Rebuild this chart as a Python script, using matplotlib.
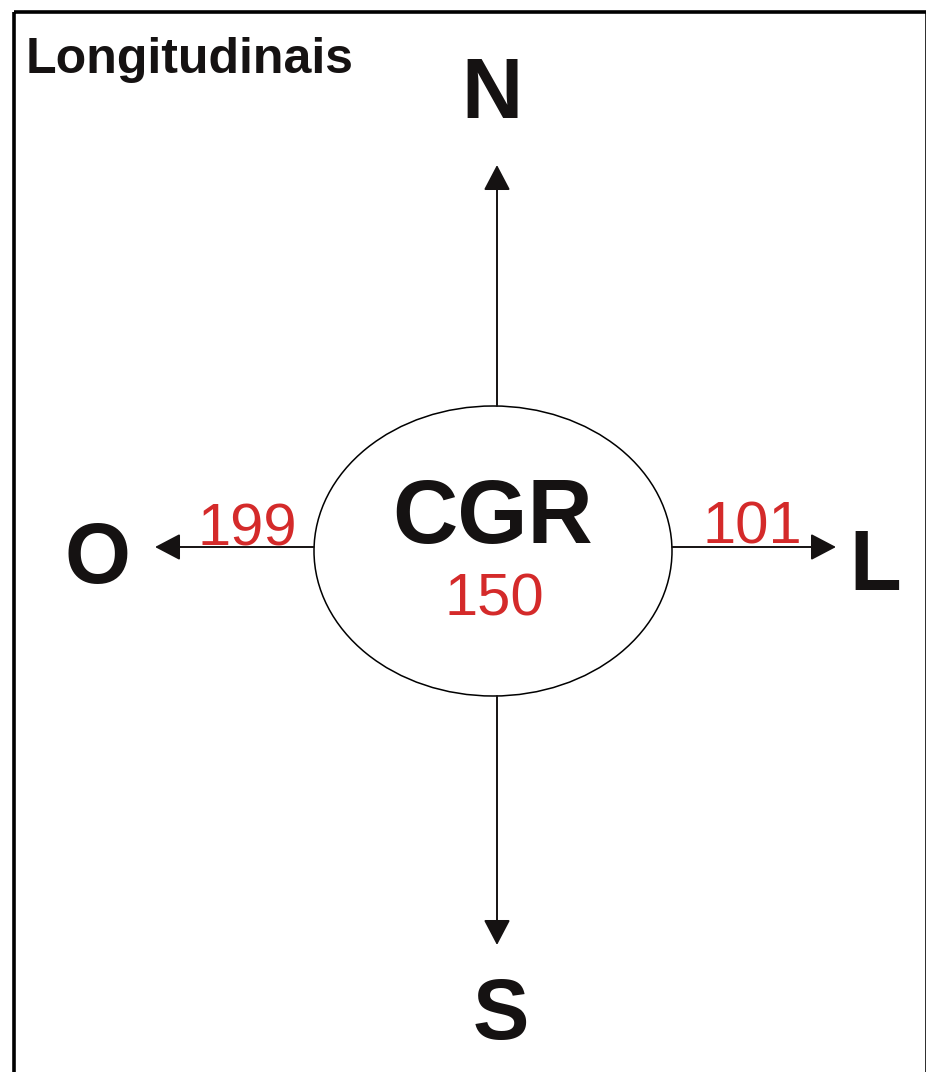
import matplotlib.pyplot as plt
from matplotlib.patches import Ellipse, Rectangle

# dados do diagrama
titulo = 'Longitudinais'
centro = 'CGR'
total_centro = 150
direcoes = ['N', 'S', 'O', 'L']
contagens = {'O': 199, 'L': 101}

vermelho = '#d42a2a'
preto = '#151212'
fonte = 'Liberation Sans'

fig = plt.figure(figsize=(9.26, 10.72), dpi=100)
ax = fig.add_axes([0, 0, 1, 1])
ax.set_xlim(0, 926)
ax.set_ylim(1072, 0)
ax.axis('off')

# moldura (lado direito quase fora da imagem)
ax.add_patch(Rectangle((14, 12), 913, 1080, fill=False, lw=2.6, ec='black'))

ax.text(26, 73, titulo, fontsize=36, fontweight='bold', family=fonte,
        ha='left', va='baseline', color=preto)

# elipse central
cx, cy = 493, 551
ax.add_patch(Ellipse((cx, cy), 358, 290, fill=False, lw=1.1, ec='black'))
ax.text(cx, 543, centro, fontsize=65, fontweight='bold', family=fonte,
        ha='center', va='baseline', color=preto)
ax.text(494, 615, str(total_centro), fontsize=43, family=fonte,
        ha='center', va='baseline', color=vermelho)

# setas: (inicio, fim, posicao da letra)
setas = {
    'N': ((497, 406), (497, 165), (492, 118)),
    'S': ((497, 696), (497, 945), (501, 1039)),
    'O': ((314, 547), (155, 547), (97, 583)),
    'L': ((672, 547), (836, 547), (875, 590)),
}
pos_num = {'O': (247, 545), 'L': (752, 543)}

for d in direcoes:
    ini, fim, pos = setas[d]
    ax.annotate('', xy=fim, xytext=ini,
                arrowprops=dict(arrowstyle='-|>,head_length=1.58,head_width=0.83',
                                mutation_scale=10, lw=1.4, color=preto,
                                shrinkA=0, shrinkB=0))
    ax.text(pos[0], pos[1], d, fontsize=61, fontweight='bold', family=fonte,
            ha='center', va='baseline', color=preto)
    if d in contagens:
        px, py = pos_num[d]
        ax.text(px, py, str(contagens[d]), fontsize=43, family=fonte,
                ha='center', va='baseline', color=vermelho)

fig.savefig('out.png', dpi=100, facecolor='white')
